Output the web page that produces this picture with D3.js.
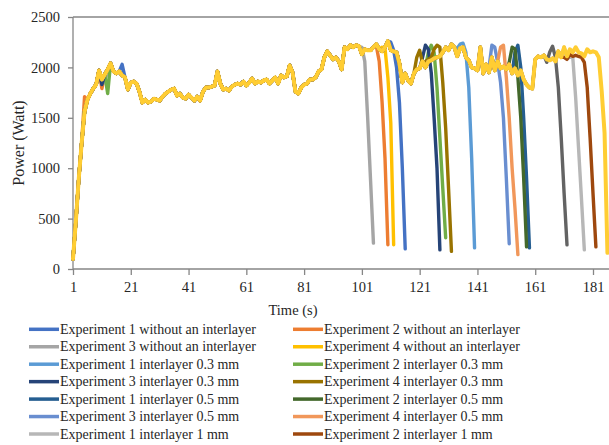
<!DOCTYPE html>
<html>
<head>
<meta charset="utf-8">
<script src="https://cdn.jsdelivr.net/npm/d3@7"></script>
<style>
    body { margin: 0; background: #fff; }
    svg text { font-family: "Liberation Serif", "Times New Roman", serif; fill: #262626; }
</style>
</head>
<body>
<div id="chart"></div>
<script>

// power of the last run (Experiment 4 interlayer 1 mm); the other runs follow it until they drop
const shared = [
    100, 480, 900, 1250, 1560, 1680, 1740, 1790, 1830, 1970,
    1880, 1930, 1980, 2040, 1960, 1940, 1960, 1920, 1900, 1780,
    1850, 1860, 1840, 1760, 1650, 1680, 1650, 1660, 1690, 1680,
    1670, 1710, 1740, 1760, 1780, 1790, 1720, 1740, 1700, 1690,
    1730, 1700, 1670, 1710, 1670, 1760, 1800, 1800, 1810, 1820,
    1960, 1840, 1780, 1790, 1770, 1810, 1830, 1840, 1830, 1860,
    1820, 1850, 1890, 1840, 1860, 1850, 1870, 1880, 1840, 1870,
    1900, 1840, 1920, 1900, 1910, 2020, 1950, 1760, 1740, 1800,
    1830, 1840, 1880, 1880, 1900, 1960, 1980, 2100, 2160, 2120,
    2080, 2100, 2060, 1980, 2200, 2180, 2220, 2200, 2220, 2210,
    2130, 2180, 2170, 2170, 2200, 2230, 2180, 2160, 2200, 2260,
    2170, 2160, 2150, 2040, 1850, 1940, 1870, 1840, 1940, 1980,
    1990, 2060, 2000, 2060, 2070, 2090, 2100, 2110, 2150, 2200,
    2170, 2230, 2200, 2110, 2190, 2200, 2100, 2070, 2000, 1990,
    1970, 2200, 1940, 2030, 1950, 2100, 1970, 2060, 1990, 2010,
    1980, 2030, 1940, 1990, 1920, 1970, 1880, 1830, 1800, 1790,
    2080, 2110, 2100, 2120, 2080, 2070, 2090, 2060, 2160, 2100,
    2200, 2110, 2180, 2150, 2200, 2150, 2140, 2110, 2180, 2150,
    2160, 2150, 2100, 1770, 1350, 160
];

const seriesNames = [
    "Experiment 1 without an interlayer", "Experiment 2 without an interlayer",
    "Experiment 3 without an interlayer", "Experiment 4 without an interlayer",
    "Experiment 1 interlayer 0.3 mm", "Experiment 2 interlayer 0.3 mm",
    "Experiment 3 interlayer 0.3 mm", "Experiment 4 interlayer 0.3 mm",
    "Experiment 1 interlayer 0.5 mm", "Experiment 2 interlayer 0.5 mm",
    "Experiment 3 interlayer 0.5 mm", "Experiment 4 interlayer 0.5 mm",
    "Experiment 1 interlayer 1 mm", "Experiment 2 interlayer 1 mm",
    "Experiment 3 interlayer 1 mm", "Experiment 4 interlayer 1 mm"
];

const seriesColors = [
    "#4472C4", "#ED7D31", "#A5A5A5", "#FFC000",
    "#5B9BD5", "#70AD47", "#264478", "#997300",
    "#255E91", "#43682B", "#698ED0", "#F1975A",
    "#B7B7B7", "#9E480E", "#636363", "#FFCD33"
];

// second at which each run leaves the shared curve, and its own values from there
const dropStart = [111, 106, 101, 108, 134, 124, 122, 120, 154, 152, 145, 148, 172, 171, 165, null];

const dropValues = [
    [2250, 2170, 2000, 1650, 1000, 200],
    [2210, 2060, 1650, 1100, 240],
    [2200, 2060, 1500, 880, 257],
    [2200, 2190, 1900, 1450, 240],
    [2190, 2230, 2240, 2150, 1800, 1100, 210],
    [2150, 2220, 2150, 1800, 1300, 800, 310],
    [2100, 2220, 2180, 1950, 1500, 1000, 190],
    [2100, 2170, 2040, 2060, 2080, 2100, 2180, 2220, 2200, 1850, 1400, 800, 175],
    [2150, 2220, 2000, 1500, 900, 210],
    [2050, 2200, 2180, 1900, 1500, 900, 220],
    [2000, 2220, 2200, 2050, 1850, 1500, 900, 250],
    [2060, 2200, 2220, 1900, 1500, 1000, 600, 143],
    [2090, 2100, 2100, 1700, 1200, 700, 190],
    [2100, 2080, 2130, 2110, 2120, 2110, 2100, 2050, 1800, 1300, 750, 220],
    [2050, 2150, 2210, 2100, 1800, 1300, 750, 240],
    []
];

// small early bumps where a run shows from under the top curve: [second, watt]
const earlyBumps = [
    [[18, 2030]], [[5, 1710], [11, 1790]], [[12, 1850]], [],
    [], [[13, 1740]], [[11, 1830]], [],
    [], [], [], [],
    [], [], [], []
];

const xTicks = [1, 21, 41, 61, 81, 101, 121, 141, 161, 181];
const yTicks = [0, 500, 1000, 1500, 2000, 2500];

const series = seriesNames.map((name, i) => {
    const start = dropStart[i];
    let values = start ? shared.slice(0, start - 1).concat(dropValues[i]) : shared.slice();
    earlyBumps[i].forEach(([t, v]) => { values[t - 1] = v; });
    return {
        name: name,
        color: seriesColors[i],
        points: values.map((v, k) => ({ t: k + 1, v: v }))
    };
});

const width = 609, height = 445;

const svg = d3.select("#chart")
    .append("svg")
        .attr("width", width)
        .attr("height", height);

const x = d3.scaleLinear()
    .domain([1, 181])
    .range([73, 593]);

const y = d3.scaleLinear()
    .domain([0, 2500])
    .range([269, 17]);

const axisColor = "#868686";

// top border of the plot
svg.append("line")
    .attr("x1", 73)
    .attr("x2", width + 10)
    .attr("y1", y(2500))
    .attr("y2", y(2500))
    .attr("stroke", axisColor)
    .attr("stroke-width", 1.3);

const yAxis = svg.append("g")
    .attr("transform", `translate(${x(1)},0)`)
    .call(d3.axisLeft(y).tickValues(yTicks).tickFormat(d3.format("d")).tickSize(5).tickPadding(8));

const xAxis = svg.append("g")
    .attr("transform", `translate(0,${y(0)})`)
    .call(d3.axisBottom(x).tickValues(xTicks).tickFormat(d3.format("d")).tickSize(6).tickPadding(7));

[yAxis, xAxis].forEach(a => {
    a.attr("font-family", null).attr("font-size", null);
    a.select(".domain").remove();
    a.selectAll(".tick line").attr("stroke", axisColor).attr("stroke-width", 1.3);
    a.selectAll(".tick text")
        .attr("fill", "#262626")
        .style("font-family", "'Liberation Serif', serif")
        .style("font-size", "14.5px");
});

svg.append("line")
    .attr("x1", x(1)).attr("x2", x(1))
    .attr("y1", y(2500)).attr("y2", y(0))
    .attr("stroke", axisColor)
    .attr("stroke-width", 1.3);

svg.append("line")
    .attr("x1", x(1)).attr("x2", width + 10)
    .attr("y1", y(0)).attr("y2", y(0))
    .attr("stroke", axisColor)
    .attr("stroke-width", 1.3);

const line = d3.line()
    .x(d => x(d.t))
    .y(d => y(d.v));

svg.append("g")
    .selectAll("path")
    .data(series)
    .enter()
    .append("path")
        .attr("d", d => line(d.points))
        .attr("fill", "none")
        .attr("stroke", d => d.color)
        .attr("stroke-width", (d, i) => i === series.length - 1 ? 4 : 3.4)
        .attr("stroke-linejoin", "round")
        .attr("stroke-linecap", "round");

svg.append("text")
    .text("Time (s)")
    .attr("x", 293)
    .attr("y", 315)
    .attr("text-anchor", "middle")
    .style("font-size", "14.5px");

svg.append("text")
    .text("Power (Watt)")
    .attr("transform", `translate(24,${(y(0) + y(2500)) / 2}) rotate(-90)`)
    .attr("text-anchor", "middle")
    .style("font-size", "16px");

// legend in two columns; the rows past the bottom edge are not shown, as in the original
const rowY = i => 329.3 + Math.floor(i / 2) * 17.45;

const legend = svg.append("g")
    .selectAll("g")
    .data(series.filter((d, i) => rowY(i) + 8 < height))
    .enter()
    .append("g")
        .attr("transform", (d, i) => `translate(${i % 2 ? 293 : 29},${rowY(i)})`);

legend.append("line")
    .attr("x1", 0)
    .attr("x2", 30)
    .attr("stroke", d => d.color)
    .attr("stroke-width", 3.5);

legend.append("text")
    .text(d => d.name)
    .attr("x", 31)
    .attr("dy", "0.33em")
    .style("font-size", "14px");

</script>
</body>
</html>
